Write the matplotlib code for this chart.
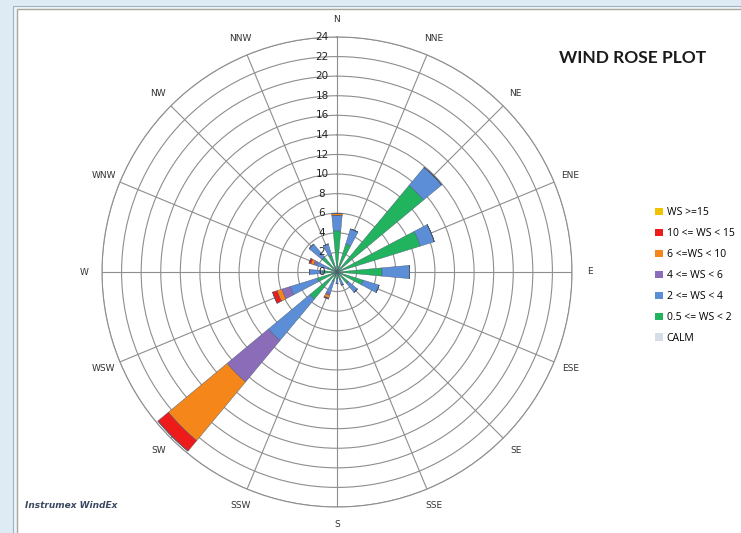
import numpy as np
import matplotlib.pyplot as plt
from matplotlib.patches import Patch, Rectangle

# directions (16 compass points)
directions = ["N", "NNE", "NE", "ENE", "E", "ESE", "SE", "SSE",
              "S", "SSW", "SW", "WSW", "W", "WNW", "NW", "NNW"]

# frequency (%) per speed class, per direction (segment lengths, stacked)
ws_05_2 = [4.2, 3.0, 11.5, 8.9, 4.6, 2.8, 1.5, 0.8, 0.7, 1.0, 3.6, 2.1, 1.5, 1.0, 2.0, 1.8]
ws_2_4 = [1.6, 1.6, 2.4, 1.5, 2.8, 1.7, 1.2, 0.6, 0.5, 1.3, 5.5, 2.9, 1.3, 1.2, 1.7, 1.2]
ws_4_6 = [0, 0, 0, 0, 0, 0, 0, 0, 0, 0.2, 5.5, 0.9, 0, 0.3, 0, 0]
ws_6_10 = [0.2, 0, 0, 0, 0, 0, 0, 0, 0, 0.3, 7.8, 0.5, 0, 0.3, 0, 0]
ws_10_15 = [0, 0, 0, 0, 0, 0, 0, 0, 0, 0.1, 1.4, 0.5, 0, 0.2, 0, 0]
ws_15 = [0] * 16

r_ticks = list(range(0, 25, 2))
legend_labels = ["WS >=15", "10 <= WS < 15", "6 <=WS < 10", "4 <= WS < 6",
                 "2 <= WS < 4", "0.5 <= WS < 2", "CALM"]

# couleurs des classes
col_green = "#22b35e"
col_blue = "#5b8ed6"
col_purple = "#8b6cb8"
col_orange = "#f5861a"
col_red = "#ee1b1b"
col_yellow = "#f2c200"
col_calm = "#d5dde9"

fig = plt.figure(figsize=(7.41, 5.33), dpi=100)
fig.patch.set_facecolor("#dfebf4")

# fond blanc du graphique
fig.patches.append(Rectangle((13 / 741, -0.01), 1, 1 - 6 / 533 + 0.01, transform=fig.transFigure,
                             facecolor="#eef4f9", edgecolor="#9db0c4", lw=0.8, zorder=-2))
fig.patches.append(Rectangle((17 / 741, -0.01), 1, 1 - 9 / 533 + 0.01, transform=fig.transFigure,
                             facecolor="white", edgecolor="#a8a89a", lw=1.0, zorder=-1))

ax = fig.add_axes([102 / 741, 26 / 533, 470 / 741, 470 / 533], projection="polar")
ax.set_facecolor("none")
ax.set_theta_zero_location("N")
ax.set_theta_direction(-1)

theta = np.deg2rad(np.arange(16) * 22.5)
width = np.deg2rad(10.5)

bottom = np.zeros(16)
for vals, c in [(ws_05_2, col_green), (ws_2_4, col_blue), (ws_4_6, col_purple),
                (ws_6_10, col_orange), (ws_10_15, col_red), (ws_15, col_yellow)]:
    v = np.array(vals, dtype=float)
    ax.bar(theta, v, width=width, bottom=bottom, color=c, edgecolor="#4a5a70",
           linewidth=0.3, zorder=3, clip_on=False)
    bottom += v

ax.set_ylim(0, 24)
ax.set_rgrids(r_ticks[1:], labels=[""] * 12)
ax.set_thetagrids(np.arange(16) * 22.5, labels=[""] * 16)
ax.grid(color="#8e8e8e", lw=0.8)
ax.spines["polar"].set_color("#8e8e8e")
ax.spines["polar"].set_linewidth(0.8)

for r in r_ticks:
    ax.annotate(str(r), xy=(0, r), xytext=(-15, 0), textcoords="offset pixels",
                ha="center", va="center", fontsize=7.5, color="#222222", zorder=5)

for t, d in zip(theta, directions):
    ax.text(t, 25.8, d, ha="center", va="center", fontsize=6.5, color="#333333")

fig.text(633 / 741, 1 - 58 / 533, "WIND ROSE PLOT", ha="center", va="center",
         fontsize=12.5, fontweight="bold", family="Lato", color="#1a1a1a")

fig.text(25 / 741, 1 - 506 / 533, "Instrumex WindEx", ha="left", va="center",
         fontsize=6.5, style="italic", fontweight="bold", color="#3b4660")

handles = [Patch(facecolor=c, edgecolor="none") for c in
           [col_yellow, col_red, col_orange, col_purple, col_blue, col_green, col_calm]]
fig.legend(handles, legend_labels, loc="upper left", bbox_to_anchor=(646 / 741, 1 - 198 / 533),
           frameon=False, handlelength=0.7, handleheight=0.7,
           handletextpad=0.4, labelspacing=0.95, prop={"family": "Open Sans", "size": 7.5})

fig.savefig("out.png", dpi=100)
